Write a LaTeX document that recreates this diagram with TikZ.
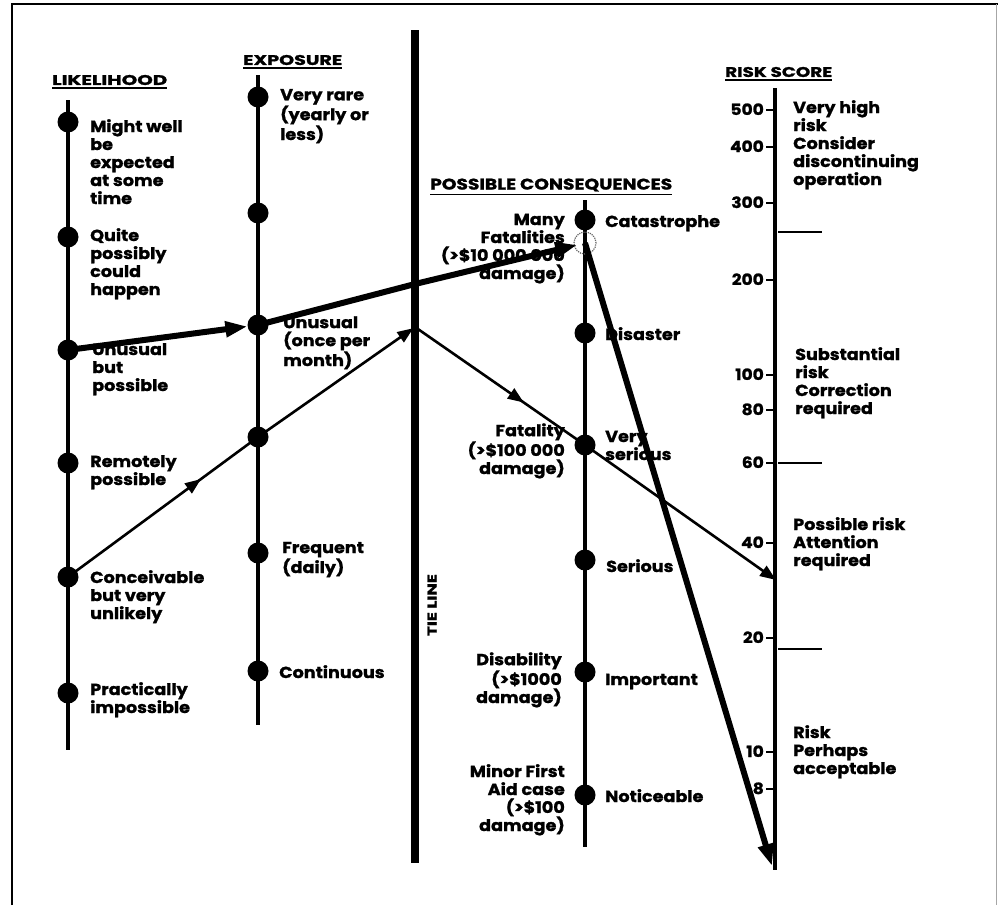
\documentclass[tikz,border=0pt]{standalone}
\usepackage{fontspec}
\setmainfont{Poppins}[BoldFeatures={FakeStretch=1.1,FakeBold=1.2}]
\usetikzlibrary{arrows.meta,decorations.markings}

\newcommand\chartlabelfont{\bfseries\fontsize{16}{18}\selectfont}
\newcommand\chartnumfont{\bfseries\fontsize{15.5}{16}\selectfont}
\newcommand\charthead[3]{\resizebox{#1pt}{#2pt}{\bfseries #3}}

\begin{document}
\begin{tikzpicture}[x=1pt,y=-1pt,
  axis/.style={line width=4.5pt},
  dot/.style={circle,fill=black,inner sep=0pt,minimum size=21pt},
  % multi-line labels: the base anchor sits on the baseline of the last line
  lbl/.style={anchor=base west,align=left,font=\chartlabelfont,inner sep=0pt},
  lblr/.style={anchor=base east,align=right,font=\chartlabelfont,inner sep=0pt},
  num/.style={anchor=base east,font=\chartnumfont,inner sep=0pt},
  head/.style={anchor=west,inner sep=0pt},
  underl/.style={line width=1.6pt},
  tick/.style={line width=2pt},
  divider/.style={line width=1.6pt},
  thinpath/.style={line width=2.6pt},
  thickpath/.style={line width=6pt},
  tip/.style={-{Triangle[length=16pt,width=12pt]}},
  bigtip/.style={-{Triangle[length=22pt,width=15pt]}},
  midarrow/.style={postaction={decorate},decoration={markings,
      mark=at position #1 with {\arrow{Triangle[length=16pt,width=12pt]}}}}
]
\useasboundingbox (0,0) rectangle (998,905);

% frame
\draw[line width=1.4pt] (12,905) -- (12,4) -- (998,4);
\draw[line width=0.8pt,black!35] (996,4) -- (996,905);

% ---------------- headings
\node[head] (hL) at (52,80) {\charthead{115}{10}{LIKELIHOOD}};
\node[head] (hE) at (243,60) {\charthead{99}{10}{EXPOSURE}};
\node[head] (hC) at (430,185) {\charthead{242}{11}{POSSIBLE CONSEQUENCES}};
\node[head] (hR) at (725,72) {\charthead{107}{10}{RISK SCORE}};
\foreach \h in {hL,hE,hC,hR}
  \draw[underl] ([yshift=-3pt]\h.south west) -- ([yshift=-3pt]\h.south east);

% ---------------- axes
\draw[axis] (68,100) -- (68,750);
\draw[axis] (258,75) -- (258,725);
\draw[line width=8pt] (415,30) -- (415,863);
\draw[axis] (585,200) -- (585,847);
\draw[axis] (775,88) -- (775,870);

\node[rotate=90,inner sep=0pt] (tie) at (432,605) {\charthead{62}{9}{TIE LINE}};

% ---------------- likelihood
\node[dot] (l1) at (68,122) {};
\node[dot] (l2) at (68,237) {};
\node[dot] (l3) at (68,350) {};
\node[dot] (l4) at (68,463) {};
\node[dot] (l5) at (68,577) {};
\node[dot] (l6) at (68,693) {};
\node[lbl] (l1t) at (90,204) {Might well\\be\\expected\\at some\\time};
\node[lbl] (l2t) at (90,295) {Quite\\possibly\\could\\happen};
\node[lbl] (l3t) at (92,391) {Unusual\\but\\possible};
\node[lbl] (l4t) at (90,485) {Remotely\\possible};
\node[lbl] (l5t) at (90,619) {Conceivable\\but very\\unlikely};
\node[lbl] (l6t) at (90,713) {Practically\\impossible};

% ---------------- exposure
\node[dot] (e1) at (258,97) {};
\node[dot] (e2) at (258,213) {};
\node[dot] (e3) at (258,325) {};
\node[dot] (e4) at (258,437) {};
\node[dot] (e5) at (258,553) {};
\node[dot] (e6) at (258,671) {};
\node[lbl] (e1t) at (280,140) {Very rare\\(yearly or\\less)};
\node[lbl] (e3t) at (283,366) {Unusual\\(once per\\month)};
\node[lbl] (e5t) at (282,573) {Frequent\\(daily)};
\node[lbl] (e6t) at (279,678) {Continuous};

% ---------------- consequences
\node[dot] (c1) at (585,220) {};
\node[dot] (c2) at (585,333) {};
\node[dot] (c3) at (585,445) {};
\node[dot] (c4) at (585,560) {};
\node[dot] (c5) at (585,672) {};
\node[dot] (c6) at (585,795) {};
\node[lblr] (c1l) at (565,279) {Many\\Fatalities\\(>\$10 000 000\\damage)};
\node[lblr] (c3l) at (565,474) {Fatality\\(>\$100 000\\damage)};
\node[lblr] (c5l) at (562,703) {Disability\\(>\$1000\\damage)};
\node[lblr] (c6l) at (565,831) {Minor First\\Aid case\\(>\$100\\damage)};
\node[lbl] (c1r) at (605,227) {Catastrophe};
\node[lbl] (c2r) at (605,340) {Disaster};
\node[lbl] (c3r) at (605,460) {Very\\serious};
\node[lbl] (c4r) at (606,572) {Serious};
\node[lbl] (c5r) at (605,685) {Important};
\node[lbl] (c6r) at (605,802) {Noticeable};

% ---------------- risk score scale
\foreach \v/\y in {500/110,400/147,300/203,200/280,100/375,80/410,60/463,40/543,20/638,10/752,8/789}{
  \draw[tick] (775,\y) -- (766,\y);
  \node[num] at (764,\y+5) {\v};
}
\draw[divider] (778,232) -- (822,232);
\draw[divider] (778,463) -- (822,463);
\draw[divider] (778,649) -- (822,649);
\node[lbl] (r1) at (793,185) {Very high\\risk\\Consider\\discontinuing\\operation};
\node[lbl] (r2) at (795,414) {Substantial\\risk\\Correction\\required};
\node[lbl] (r3) at (793,566) {Possible risk\\Attention\\required};
\node[lbl] (r4) at (793,774) {Risk\\Perhaps\\acceptable};

% ---------------- tie-line crossings and end points
\coordinate (t1) at (415,284);
\coordinate (t2) at (415,327);
\coordinate (hit) at (585,243);
\coordinate (rA) at (776,580);
\coordinate (rB) at (772,866);

% thin path: conceivable -> exposure -> tie line -> very serious -> score
\draw[thinpath,midarrow=0.7] (l5.center) -- (e4.center);
\draw[thinpath,tip,shorten >=2pt] (e4.center) -- (t2);
\draw[thinpath,midarrow=0.64] (t2) -- (c3.center);
\draw[thinpath,tip] (c3.center) -- (rA);

% thick path: unusual -> unusual -> tie line -> many fatalities -> score
\draw[thickpath,bigtip] (l3.center) -- (e3);
\draw[thickpath] (e3.center) -- (t1);
\draw[thickpath,bigtip,shorten >=8pt] (t1) -- (hit);
\draw[line width=1.2pt,densely dotted,black!60] (hit) circle (11pt);
\draw[thickpath,bigtip] (hit) -- (rB);
\end{tikzpicture}
\end{document}
